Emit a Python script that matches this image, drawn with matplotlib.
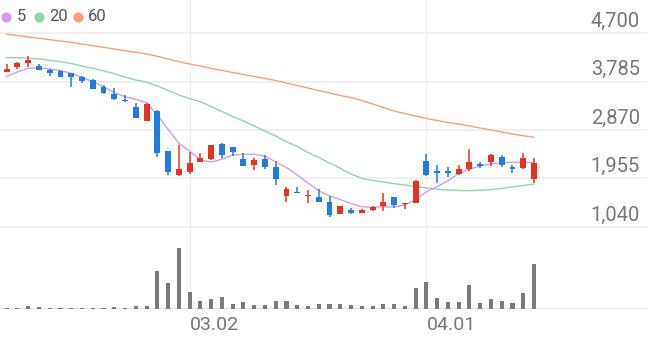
import matplotlib
matplotlib.use("Agg")
import matplotlib.pyplot as plt
import numpy as np

# daily candles, index 0..49 (17 = 03.02, 39 = 04.01)
opens = [3973, 4058, 4134, 4077, 4011, 3992, 3936, 3864, 3813, 3672,
         3549, 3430, 3309, 3049, 3234, 2468, 2020, 2083, 2266, 2317,
         2605, 2543, 2322, 2209, 2317, 2177, 1624, 1705, 1624, 1611,
         1517, 1285, 1360, 1309, 1360, 1441, 1600, 1467, 1486, 2285,
         2096, 2096, 2034, 2128, 2222, 2271, 2366, 2177, 2147, 1939]
highs = [4115, 4153, 4266, 4124, 4021, 4002, 3945, 3889, 3823, 3719,
         3656, 3530, 3385, 3388, 3256, 2473, 2587, 2460, 2430, 2587,
         2630, 2549, 2441, 2336, 2398, 2290, 1788, 1788, 1732, 1751,
         1624, 1445, 1403, 1385, 1441, 1675, 1611, 1498, 1917, 2411,
         2209, 2177, 2209, 2511, 2271, 2411, 2398, 2209, 2430, 2336]
lows = [3960, 4030, 4058, 4002, 3889, 3870, 3675, 3757, 3643, 3540,
        3436, 3407, 3087, 3039, 2351, 2020, 2007, 2034, 2266, 2313,
        2336, 2379, 2190, 2115, 2134, 1832, 1517, 1675, 1492, 1502,
        1234, 1285, 1279, 1298, 1341, 1347, 1392, 1373, 1483, 2002,
        1875, 1988, 2020, 2102, 2147, 2196, 2177, 2064, 2128, 1875]
closes = [4030, 4134, 4200, 4011, 3940, 3875, 3864, 3794, 3649, 3562,
          3455, 3411, 3090, 3351, 2441, 2071, 2128, 2253, 2336, 2581,
          2407, 2449, 2196, 2303, 2166, 1939, 1751, 1681, 1652, 1505,
          1266, 1441, 1309, 1360, 1417, 1517, 1454, 1486, 1913, 2020,
          2064, 2064, 2128, 2271, 2196, 2398, 2209, 2128, 2336, 2253]
volumes = [1.5, 1.5, 3, 2.5, 1.5, 1.5, 1.5, 1.5, 1.5, 1.5,
           2, 1.5, 3, 3, 38, 26, 61, 17, 8, 10,
           12, 5, 7, 4, 4, 8, 8, 4, 3, 5,
           5, 5.5, 4, 3, 3, 5.5, 5, 3, 21, 27,
           11, 7, 7, 24, 6, 10, 8, 6, 16, 45]

ma5 = [3879, 3964, 4034, 4040, 4021, 3989, 3940, 3864, 3781, 3687,
       3574, 3498, 3449, 3385, 3153, 2883, 2619, 2473, 2304, 2266,
       2317, 2398, 2411, 2411, 2379, 2266, 2162, 2020, 1870, 1719,
       1624, 1558, 1483, 1422, 1411, 1422, 1417, 1454, 1558, 1705,
       1800, 1913, 2049, 2128, 2190, 2228, 2253, 2260, 2260, 2253]
ma20 = [4234, 4234, 4228, 4209, 4185, 4158, 4124, 4077, 4034, 3989,
        3932, 3870, 3813, 3775, 3700, 3615, 3530, 3464, 3404, 3313,
        3219, 3124, 3039, 2945, 2851, 2756, 2649, 2558, 2445, 2351,
        2247, 2147, 2039, 1958, 1917, 1888, 1856, 1832, 1807, 1775,
        1751, 1737, 1728, 1724, 1732, 1747, 1766, 1794, 1822, 1851]
ma60 = [4677, 4653, 4625, 4600, 4574, 4549, 4525, 4492, 4460, 4430,
        4398, 4366, 4336, 4304, 4260, 4209, 4162, 4115, 4077, 4034,
        3994, 3955, 3917, 3879, 3841, 3804, 3757, 3709, 3662, 3615,
        3568, 3521, 3483, 3426, 3360, 3294, 3228, 3181, 3134, 3087,
        3049, 3011, 2983, 2945, 2907, 2870, 2832, 2794, 2762, 2732]

price_ticks = [4700, 3785, 2870, 1955, 1040]
date_ticks = [17, 39]
date_labels = ["03.02", "04.01"]
ma_names = ["5", "20", "60"]

UP = "#e8321f"
DOWN = "#1f7be6"
MA_COLORS = ["#d69de9", "#8fd9a2", "#f6a17c"]
GRID = "#eeeeee"
TEXT = "#777777"


def plot(output):
    fig = plt.figure(figsize=(6.47, 3.37), dpi=100)
    W, H = 647.0, 337.0
    ax = fig.add_axes([0, 1 - 240 / H, 1, 240 / H])
    axv = fig.add_axes([0, 1 - 309 / H, 1, 69 / H])

    xs = np.arange(len(opens))
    xlim = (-0.62, 59.5)
    for a in (ax, axv):
        a.set_xlim(*xlim)
        a.set_axis_off()
        for d in date_ticks:
            a.axvline(d, color=GRID, lw=1, zorder=0)
    ax.set_ylim(794, 5323)
    axv.set_ylim(0, 69)

    # grid + price labels
    for p in price_ticks:
        ax.axhline(p, color=GRID, lw=1.2, zorder=0)
        ax.annotate("{:,}".format(p), xy=(1, p), xycoords=("axes fraction", "data"),
                    xytext=(-5, 4.5), textcoords="offset points", ha="right", va="baseline",
                    fontsize=14.5, color=TEXT, family="Roboto")

    # moving averages
    for vals, c in zip([ma60, ma20, ma5], MA_COLORS[::-1]):
        ax.plot(xs, vals, color=c, lw=1.0, zorder=2)

    # candles
    o = np.array(opens); c = np.array(closes)
    colors = [UP if cl >= op else DOWN for op, cl in zip(opens, closes)]
    ax.vlines(xs, lows, highs, colors=colors, lw=1.1, zorder=3)
    bottom = np.minimum(o, c)
    height = np.maximum(np.abs(c - o), 25)
    ax.bar(xs, height, bottom=bottom, width=0.55, color=colors, zorder=4)

    # volume
    axv.bar(xs, volumes, width=0.38, color="#7a7a7a", zorder=3)
    axv.axhline(0, color="#dddddd", lw=1.2, zorder=2)
    for d, lab in zip(date_ticks, date_labels):
        axv.annotate(lab, xy=(d, 0), xycoords=("data", "axes fraction"),
                     xytext=(0, -11.5), textcoords="offset points", ha="left", va="center",
                     fontsize=14, color=TEXT, family="Roboto")

    # legend
    cx = [6, 39, 78]
    tx = [17, 49, 88]
    for x0, x1, name, col in zip(cx, tx, ma_names, MA_COLORS):
        fig.add_artist(plt.Line2D([x0 / W], [1 - 16.7 / H], marker="o", markersize=6.3,
                                  color=col, transform=fig.transFigure))
        fig.text(x1 / W, 1 - 16.7 / H, name, ha="left", va="center", fontsize=12,
                 color="#555555", family="Roboto")

    fig.savefig(output, dpi=100)
    plt.close(fig)


def main():
    plot("out.png")


if __name__ == "__main__":
    main()
